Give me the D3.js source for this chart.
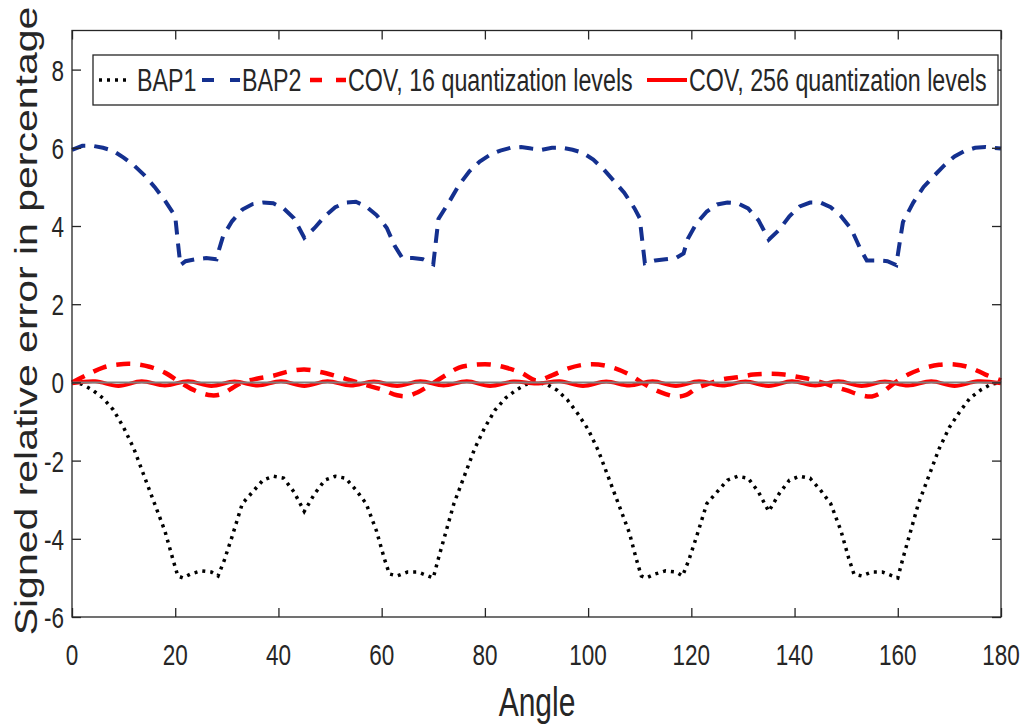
<!DOCTYPE html>
<html>
<head>
<meta charset="utf-8">
<script src="https://cdn.jsdelivr.net/npm/d3@7"></script>
<style>
  body { margin: 0; background: #fff; }
  svg { display: block; font-family: "Liberation Sans", Arial, sans-serif; }
</style>
</head>
<body>
<svg id="chart" width="1023" height="726"></svg>
<script>
const xTicks = [0, 20, 40, 60, 80, 100, 120, 140, 160, 180];
const yTicks = [-6, -4, -2, 0, 2, 4, 6, 8];

const bap1Angle = [0, 2, 4, 6, 8, 10, 12, 14, 16, 18, 19.5, 20.5, 21.5, 23, 25, 27, 28.3, 29.5, 31, 33, 35, 37, 39, 41, 43, 45, 47, 49, 51, 53, 55, 57, 59, 60.5, 61.5, 63, 65, 67, 69, 70, 71, 72.5, 74, 76, 78, 80, 82, 84, 86, 88, 90,
  92, 94, 96, 98, 100, 102, 104, 106, 108, 109.3, 110.3, 111.3, 113, 115, 117, 118.3, 119.5, 121, 123, 125, 127, 129, 131, 133, 135, 137, 139, 141, 143, 145, 147, 149, 150.5, 151.5, 153, 155, 157, 159, 160, 161, 162.5, 164, 166, 168, 170, 172, 174, 176, 178, 180];
const bap1Value = [0, -0.05, -0.2, -0.4, -0.7, -1.15, -1.7, -2.4, -3.1, -3.8, -4.5, -4.95, -5.0, -4.9, -4.82, -4.85, -4.95, -4.55, -3.95, -3.1, -2.8, -2.5, -2.4, -2.45, -2.8, -3.3, -2.85, -2.5, -2.4, -2.45, -2.75, -3.1, -3.8, -4.5, -4.9, -4.95, -4.85, -4.85, -4.95, -5.0, -4.5, -3.8, -3.1, -2.4, -1.7, -1.15, -0.7, -0.4, -0.2, -0.05, 0,
  -0.05, -0.2, -0.45, -0.8, -1.2, -1.75, -2.45, -3.15, -3.85, -4.5, -4.95, -5.0, -4.9, -4.82, -4.85, -4.95, -4.55, -3.95, -3.1, -2.8, -2.5, -2.4, -2.45, -2.8, -3.3, -2.85, -2.5, -2.4, -2.45, -2.75, -3.1, -3.8, -4.5, -4.9, -4.95, -4.85, -4.85, -4.95, -5.0, -4.5, -3.8, -3.1, -2.4, -1.7, -1.15, -0.75, -0.4, -0.2, -0.05, 0];

const bap2Angle = [0, 2, 4, 6, 8, 10, 12, 14, 16, 18, 20, 20.5, 21, 22, 24, 26, 28, 28.5, 29.3, 31, 33, 35, 37, 39, 41, 43, 45, 47, 49, 51, 53, 55, 57, 59, 61, 62.5, 64, 66, 68, 70, 70.5, 71, 73, 75, 77, 79, 81, 83, 85, 87, 89, 91, 93, 95, 97, 99, 101, 103, 105, 107, 109, 110, 110.6, 111, 113, 115, 117, 118.5, 119.3, 121, 123, 125, 127, 129, 131, 133, 135, 137, 139, 141, 143, 145, 147, 149, 151, 152.8, 154, 156, 158, 159.7, 160.4, 161, 163, 165, 167, 169, 171, 173, 175, 177, 180];
const bap2Value = [5.95, 6.05, 6.05, 6.0, 5.92, 5.75, 5.55, 5.3, 5.0, 4.65, 4.25, 3.6, 3.0, 3.1, 3.15, 3.18, 3.15, 3.4, 3.75, 4.12, 4.42, 4.56, 4.6, 4.58, 4.45, 4.2, 3.7, 3.95, 4.25, 4.48, 4.6, 4.62, 4.5, 4.28, 3.95, 3.5, 3.18, 3.18, 3.15, 3.02, 3.6, 4.18, 4.6, 5.05, 5.4, 5.65, 5.82, 5.93, 6.0, 6.02, 5.98, 5.95, 6.0, 6.0, 5.95, 5.87, 5.7, 5.45, 5.15, 4.85, 4.45, 4.2, 3.5, 3.05, 3.12, 3.15, 3.18, 3.3, 3.67, 4.07, 4.37, 4.55, 4.6, 4.58, 4.45, 4.15, 3.65, 3.9, 4.25, 4.5, 4.6, 4.6, 4.48, 4.25, 3.92, 3.4, 3.12, 3.12, 3.1, 3.0, 3.6, 4.1, 4.6, 5.0, 5.28, 5.55, 5.78, 5.92, 6.0, 6.02, 5.98];

const cov16Angle = [0, 3, 6, 9, 12, 15, 18, 21, 24, 27, 29, 31, 33, 36, 39, 42, 45, 48, 51, 54, 57, 60, 63, 65, 67, 69, 72, 75, 78, 81, 84, 87, 90, 93, 96, 99, 102, 105, 108, 111, 114, 117, 119, 121, 123, 126, 129, 132, 135, 138, 141, 144, 147, 150, 153, 155, 157, 159, 162, 165, 168, 171, 174, 177, 180];
const cov16Value = [0.0, 0.2, 0.38, 0.46, 0.47, 0.4, 0.25, 0.0, -0.22, -0.33, -0.3, -0.15, 0.0, 0.1, 0.17, 0.28, 0.33, 0.27, 0.17, 0.05, -0.07, -0.18, -0.33, -0.35, -0.25, -0.1, 0.15, 0.38, 0.45, 0.46, 0.38, 0.25, 0.05, 0.18, 0.35, 0.45, 0.46, 0.37, 0.2, -0.05, -0.25, -0.36, -0.32, -0.15, -0.05, 0.08, 0.13, 0.2, 0.22, 0.2, 0.13, 0.05, -0.08, -0.2, -0.33, -0.36, -0.25, -0.05, 0.2, 0.36, 0.45, 0.46, 0.38, 0.2, 0.05];

const cov256Angle = [0, 4.5, 9, 13.5, 18, 22.5, 27, 31.5, 36, 40.5, 45, 49.5, 54, 58.5, 63, 67.5, 72, 76.5, 81, 85.5, 90, 94.5, 99, 103.5, 108, 112.5, 117, 121.5, 126, 130.5, 135, 139.5, 144, 148.5, 153, 157.5, 162, 166.5, 171, 175.5, 180];
const cov256Value = [-0.02, 0.03, -0.09, 0.03, -0.08, 0.03, -0.09, 0.02, -0.08, 0.03, -0.09, 0.03, -0.08, 0.02, -0.09, 0.03, -0.08, 0.03, -0.09, 0.02, -0.03, 0.03, -0.09, 0.02, -0.08, 0.03, -0.09, 0.03, -0.08, 0.02, -0.09, 0.03, -0.08, 0.03, -0.09, 0.02, -0.08, 0.03, -0.09, 0.03, -0.02];

const legendNames = ["BAP1", "BAP2", "COV, 16 quantization levels", "COV, 256 quantization levels"];

const axisColor = "#262626";
const blue = "#14308f";
const red = "#ff0000";
const sx = 0.75; // the figure is squeezed horizontally

const chart = d3.select("#chart");

const xScale = d3.scaleLinear().domain([0, 180]).range([72, 1001]);
const yScale = d3.scaleLinear().domain([-6, 9]).range([617, 30.5]);

// squeezed text helper
function label(x, y, str, size, anchor, rot) {
  return chart
    .append("text")
    .attr("transform", `translate(${x},${y}) scale(${sx},1)` + (rot ? ` rotate(${rot})` : ""))
    .attr("text-anchor", anchor)
    .style("font-size", size + "px")
    .attr("fill", axisColor)
    .text(str);
}

const line = (xs, ys, curve) =>
  d3
    .line()
    .x((d, i) => xScale(xs[i]))
    .y((d) => yScale(d))
    .curve(curve)(ys);

// series
chart
  .append("path")
  .attr("d", line(bap1Angle, bap1Value, d3.curveLinear))
  .attr("fill", "none")
  .attr("stroke", "#000")
  .attr("stroke-width", 3.5)
  .attr("stroke-dasharray", "3,5");

chart
  .append("path")
  .attr("d", line(bap2Angle, bap2Value, d3.curveLinear))
  .attr("fill", "none")
  .attr("stroke", blue)
  .attr("stroke-width", 4)
  .attr("stroke-dasharray", "14,9");

chart
  .append("path")
  .attr("d", line(cov16Angle, cov16Value, d3.curveCatmullRom))
  .attr("fill", "none")
  .attr("stroke", red)
  .attr("stroke-width", 4.5)
  .attr("stroke-dasharray", "14,10");

chart
  .append("path")
  .attr("d", line(cov256Angle, cov256Value, d3.curveCatmullRom))
  .attr("fill", "none")
  .attr("stroke", red)
  .attr("stroke-width", 4);

// zero reference line
chart
  .append("line")
  .attr("x1", xScale(0))
  .attr("x2", xScale(180))
  .attr("y1", yScale(0))
  .attr("y2", yScale(0))
  .attr("stroke", "#808080")
  .attr("stroke-width", 2);

// axes box with inward ticks
const axBottom = chart.append("g").attr("transform", `translate(0,${yScale(-6)})`).call(d3.axisTop(xScale).tickValues(xTicks).tickSize(9).tickFormat(""));
const axTop = chart.append("g").attr("transform", `translate(0,${yScale(9)})`).call(d3.axisBottom(xScale).tickValues(xTicks).tickSize(9).tickFormat(""));
const axLeft = chart.append("g").attr("transform", `translate(${xScale(0)},0)`).call(d3.axisRight(yScale).tickValues(yTicks).tickSize(9).tickFormat(""));
const axRight = chart.append("g").attr("transform", `translate(${xScale(180)},0)`).call(d3.axisLeft(yScale).tickValues(yTicks).tickSize(9).tickFormat(""));
[axBottom, axTop, axLeft, axRight].forEach((g) => {
  g.selectAll("line").attr("stroke", axisColor).attr("stroke-width", 1.3);
  g.select(".domain").remove();
});
chart
  .append("rect")
  .attr("x", xScale(0))
  .attr("y", yScale(9))
  .attr("width", xScale(180) - xScale(0))
  .attr("height", yScale(-6) - yScale(9))
  .attr("fill", "none")
  .attr("stroke", axisColor)
  .attr("stroke-width", 1.3);

// tick labels
xTicks.forEach((v) => label(xScale(v), 665, v, 30, "middle"));
yTicks.forEach((v) => label(64, yScale(v) + 11, v, 30, "end"));

// axis titles
label(537, 716, "Angle", 40, "middle");
label(37, 321, "Signed relative error in percentage", 41, "middle", -90);

// legend
const lg = chart.append("g");
lg.append("rect")
  .attr("x", 93)
  .attr("y", 55)
  .attr("width", 905)
  .attr("height", 50)
  .attr("fill", "#fff")
  .attr("stroke", axisColor)
  .attr("stroke-width", 1.3);

const legendY = 80;
const samples = [
  { x1: 99, x2: 131, color: "#000", dash: "3,5", w: 3.5, tx: 137 },
  { x1: 202, x2: 240, color: blue, dash: "12,16", w: 4, tx: 242 },
  { x1: 310, x2: 346, color: red, dash: "12,14", w: 4.5, tx: 348 },
  { x1: 647, x2: 687, color: red, dash: null, w: 4, tx: 689 },
];
samples.forEach((s, i) => {
  lg.append("line")
    .attr("x1", s.x1)
    .attr("x2", s.x2)
    .attr("y1", legendY)
    .attr("y2", legendY)
    .attr("stroke", s.color)
    .attr("stroke-width", s.w)
    .attr("stroke-dasharray", s.dash);
  label(s.tx, legendY + 11, legendNames[i], 31, "start");
});
</script>
</body>
</html>
